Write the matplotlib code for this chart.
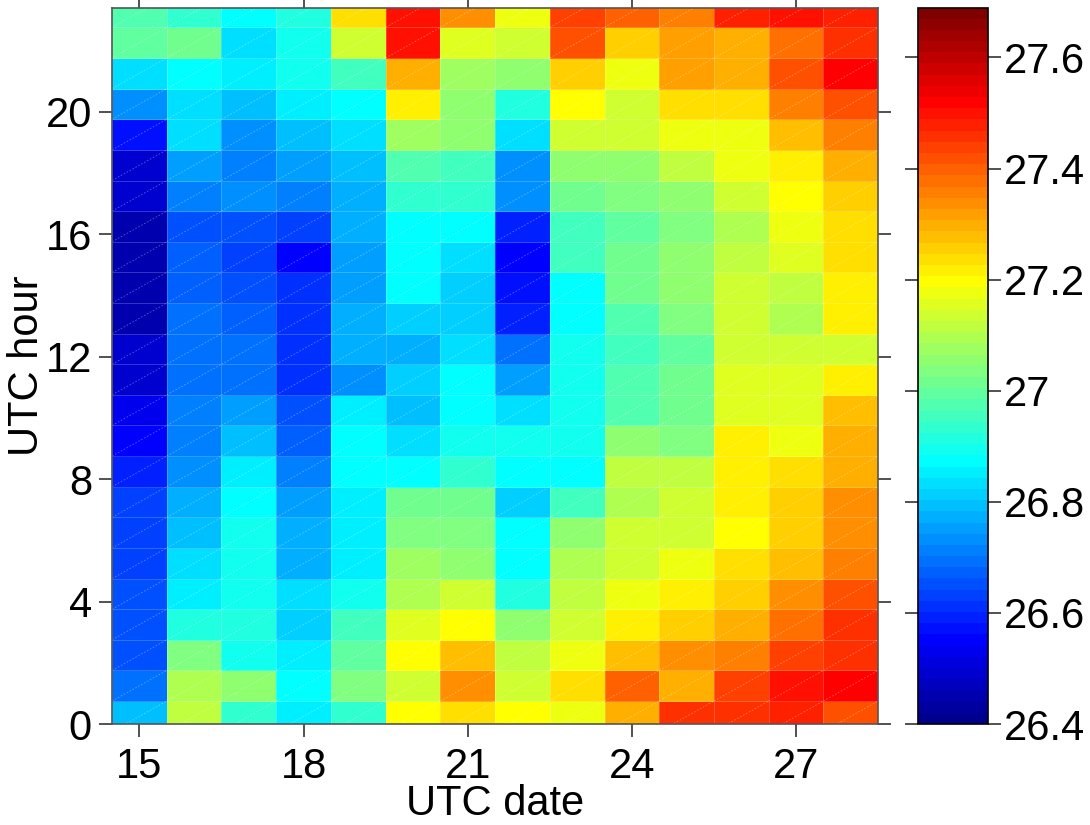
import numpy as np
import matplotlib
matplotlib.use("Agg")
import matplotlib.pyplot as plt
from matplotlib.colors import ListedColormap, Normalize
from matplotlib.collections import LineCollection

# UTC date (day of month) and UTC hour of each cell
dates = [15, 16, 17, 18, 19, 20, 21, 22, 23, 24, 25, 26, 27, 28]
hours = list(range(24))

# values for each date, hour 0 .. 23
d15 = [26.80, 26.69, 26.65, 26.65, 26.65, 26.64, 26.64, 26.64, 26.59, 26.56, 26.53, 26.50,
       26.50, 26.45, 26.45, 26.45, 26.46, 26.50, 26.50, 26.57, 26.74, 26.84, 26.99, 26.98]
d16 = [27.11, 27.10, 27.03, 26.92, 26.86, 26.84, 26.79, 26.77, 26.74, 26.72, 26.71, 26.69,
       26.69, 26.69, 26.68, 26.68, 26.66, 26.71, 26.75, 26.84, 26.84, 26.88, 27.01, 26.93]
d17 = [26.94, 27.05, 26.90, 26.92, 26.90, 26.90, 26.90, 26.87, 26.86, 26.80, 26.76, 26.69,
       26.69, 26.68, 26.66, 26.63, 26.66, 26.74, 26.72, 26.74, 26.80, 26.85, 26.84, 26.87]
d18 = [26.86, 26.87, 26.85, 26.82, 26.83, 26.77, 26.77, 26.75, 26.71, 26.67, 26.65, 26.61,
       26.62, 26.61, 26.61, 26.56, 26.64, 26.72, 26.75, 26.80, 26.86, 26.90, 26.90, 26.92]
d19 = [26.94, 27.03, 26.99, 26.96, 26.90, 26.86, 26.86, 26.86, 26.87, 26.88, 26.86, 26.74,
       26.77, 26.77, 26.75, 26.75, 26.77, 26.78, 26.80, 26.84, 26.88, 26.96, 27.13, 27.23]
d20 = [27.20, 27.13, 27.19, 27.16, 27.09, 27.07, 27.03, 27.01, 26.87, 26.83, 26.80, 26.82,
       26.77, 26.82, 26.87, 26.88, 26.88, 26.93, 26.98, 27.08, 27.21, 27.29, 27.50, 27.49]
d21 = [27.24, 27.34, 27.27, 27.19, 27.14, 27.06, 27.03, 27.01, 26.93, 26.90, 26.88, 26.87,
       26.84, 26.82, 26.82, 26.84, 26.88, 26.93, 26.96, 27.06, 27.05, 27.08, 27.16, 27.34]
d22 = [27.20, 27.14, 27.11, 27.05, 26.92, 26.88, 26.88, 26.82, 26.87, 26.90, 26.84, 26.75,
       26.69, 26.60, 26.57, 26.56, 26.59, 26.74, 26.74, 26.83, 26.92, 27.06, 27.13, 27.17]
d23 = [27.17, 27.24, 27.18, 27.14, 27.12, 27.10, 27.06, 26.96, 26.88, 26.90, 26.90, 26.90,
       26.90, 26.88, 26.88, 26.96, 26.96, 27.01, 27.06, 27.13, 27.20, 27.26, 27.41, 27.43]
d24 = [27.30, 27.39, 27.27, 27.21, 27.18, 27.14, 27.13, 27.09, 27.11, 27.05, 26.98, 26.98,
       26.96, 26.98, 27.01, 27.01, 26.99, 27.03, 27.06, 27.13, 27.13, 27.17, 27.25, 27.39]
d25 = [27.45, 27.30, 27.33, 27.26, 27.21, 27.18, 27.14, 27.14, 27.11, 27.03, 27.02, 27.01,
       26.99, 27.03, 27.05, 27.05, 27.03, 27.06, 27.11, 27.17, 27.23, 27.31, 27.31, 27.35]
d26 = [27.45, 27.43, 27.35, 27.30, 27.26, 27.23, 27.20, 27.21, 27.21, 27.21, 27.16, 27.16,
       27.14, 27.14, 27.13, 27.11, 27.10, 27.13, 27.17, 27.18, 27.24, 27.29, 27.30, 27.47]
d27 = [27.48, 27.50, 27.43, 27.37, 27.33, 27.28, 27.26, 27.25, 27.23, 27.17, 27.16, 27.15,
       27.13, 27.10, 27.11, 27.16, 27.17, 27.20, 27.21, 27.28, 27.35, 27.42, 27.38, 27.49]
d28 = [27.42, 27.51, 27.46, 27.45, 27.41, 27.35, 27.33, 27.33, 27.30, 27.29, 27.27, 27.21,
       27.14, 27.21, 27.21, 27.23, 27.23, 27.25, 27.29, 27.35, 27.41, 27.51, 27.46, 27.48]

cbar_ticks = [26.4, 26.6, 26.8, 27.0, 27.2, 27.4, 27.6]
vmin, vmax = 26.4, 27.69


def matlab_jet(m=64):
    # same construction as MATLAB's jet(m)
    n = int(np.ceil(m / 4))
    u = np.concatenate([np.arange(1, n + 1) / n, np.ones(n - 1), np.arange(n, 0, -1) / n])
    g = int(np.ceil(n / 2)) - (m % 4 == 1) + np.arange(1, len(u) + 1)
    r = g + n
    b = g - n
    J = np.zeros((m, 3))
    J[r[r <= m] - 1, 0] = u[r <= m]
    J[g[g <= m] - 1, 1] = u[g <= m]
    J[b[b > 0] - 1, 2] = u[b > 0]
    return ListedColormap(J)


Z = np.array([d15, d16, d17, d18, d19, d20, d21, d22, d23, d24, d25, d26, d27, d28]).T
xe = np.append(dates, dates[-1] + 1) - 0.5
ye = np.append(hours, hours[-1] + 1) - 0.25

plt.rcParams['font.family'] = ['Liberation Sans', 'DejaVu Sans']
fs = 30

fig = plt.figure(figsize=(10.9, 8.25), dpi=100)
ax = fig.add_axes([0.1028, 0.1224, 0.7028, 0.8685])
cax = fig.add_axes([0.8422, 0.1224, 0.0642, 0.8685])

mesh = ax.pcolormesh(xe, ye, Z, cmap=matlab_jet(64), norm=Normalize(vmin, vmax),
                     edgecolors=(1, 1, 1, 0.2), linewidth=0.6)

# faint diagonals through each cell, as in the original export
segs = [[(xe[i], ye[j]), (xe[i + 1], ye[j + 1])]
        for i in range(len(dates)) for j in range(len(hours))]
ax.add_collection(LineCollection(segs, colors=(1, 1, 1, 0.35), linewidths=0.6,
                                 linestyles=(0, (2, 2))))

ax.set_xlim(xe[0], xe[-1])
ax.set_ylim(0, 23.4)
ax.set_xticks([15, 18, 21, 24, 27])
ax.set_yticks([0, 4, 8, 12, 16, 20])
ax.tick_params(direction='out', length=9.5, width=1.2, labelsize=fs,
               top=True, right=True, color='#333333')
ax.tick_params(axis='x', pad=7)
ax.tick_params(axis='y', pad=5)
for s in ax.spines.values():
    s.set_color('#555555')
    s.set_linewidth(1.2)
ax.set_xlabel('UTC date', fontsize=fs, labelpad=-2)
ax.set_ylabel('UTC hour', fontsize=fs, labelpad=-1)

cb = fig.colorbar(mesh, cax=cax, ticks=cbar_ticks)
cb.ax.set_yticklabels([f'{v:g}' for v in cbar_ticks])
cb.ax.tick_params(direction='out', length=9.5, width=1.2, labelsize=fs,
                  left=True, right=True, pad=2, color='#333333')
cb.outline.set_linewidth(1.2)
cb.outline.set_edgecolor('black')

fig.savefig('out.png', dpi=100)
